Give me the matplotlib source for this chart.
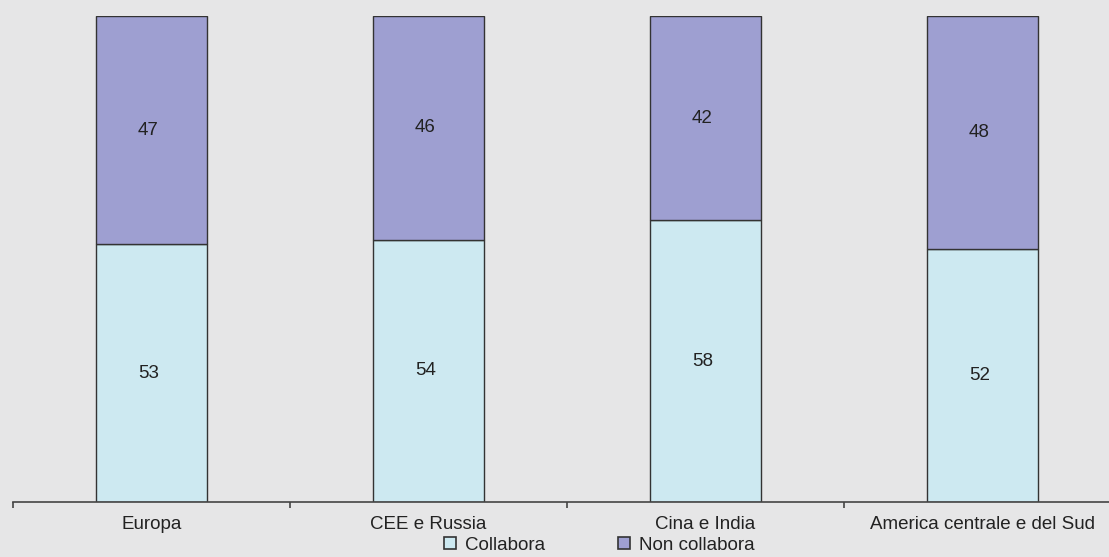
import numpy as np
import matplotlib.pyplot as plt
from matplotlib.lines import Line2D
from matplotlib.transforms import ScaledTranslation

regions = ['Europa', 'CEE e Russia', 'Cina e India', 'America centrale e del Sud']
collabora = [53, 54, 58, 52]
non_collabora = [47, 46, 42, 48]

bg = '#e6e6e7'
c_light = '#cde9f1'
c_purple = '#9e9fd1'
edge = '#333333'

plt.rcParams['font.family'] = ['Liberation Sans', 'DejaVu Sans']

fig = plt.figure(figsize=(11.09, 5.57), dpi=100, facecolor=bg)
ax = fig.add_axes([13/1109, 55/557, 1108/1109, 486/557])
ax.set_facecolor(bg)

x = np.arange(len(regions))
ax.bar(x, collabora, width=0.4, color=c_light, edgecolor=edge, linewidth=1)
ax.bar(x, non_collabora, width=0.4, bottom=collabora, color=c_purple, edgecolor=edge, linewidth=1)

# values sit a few pixels left of the bar centres in the original
shift = ScaledTranslation(-3/100, 0, fig.dpi_scale_trans)
for i in range(len(regions)):
    ax.text(x[i], collabora[i] / 2, str(collabora[i]), ha='center', va='center', fontsize=13.5,
            color='#222222', transform=ax.transData + shift)
    ax.text(x[i], collabora[i] + non_collabora[i] / 2, str(non_collabora[i]), ha='center', va='center',
            fontsize=13.5, color='#222222', transform=ax.transData + shift)

ax.set_xlim(-0.5, len(regions) - 0.5)
ax.set_ylim(0, 100)
for s in ['top', 'right', 'left']:
    ax.spines[s].set_visible(False)
ax.spines['bottom'].set_color('#444444')
ax.spines['bottom'].set_linewidth(1.2)
ax.set_yticks([])
ax.set_xticks(np.arange(len(regions) + 1) - 0.5, minor=True)
ax.set_xticks(x)
ax.set_xticklabels(regions, fontsize=13.5, color='#222222')
ax.tick_params(axis='x', which='major', length=0, pad=10)
ax.tick_params(axis='x', which='minor', length=4, color='#444444', width=1.2)

handles = [
    Line2D([], [], marker='s', linestyle='none', markersize=9, markerfacecolor=c_light, markeredgecolor=edge, markeredgewidth=1.2),
    Line2D([], [], marker='s', linestyle='none', markersize=9, markerfacecolor=c_purple, markeredgecolor=edge, markeredgewidth=1.2),
]
fig.legend(handles, ['Collabora', 'Non collabora'], loc='center', bbox_to_anchor=(598/1109, 12/557),
           ncol=2, frameon=False, fontsize=13.5, handletextpad=0.3, columnspacing=3.7, handlelength=1,
           borderpad=0, labelcolor='#222222')

fig.savefig('out.png', dpi=100, facecolor=bg)
